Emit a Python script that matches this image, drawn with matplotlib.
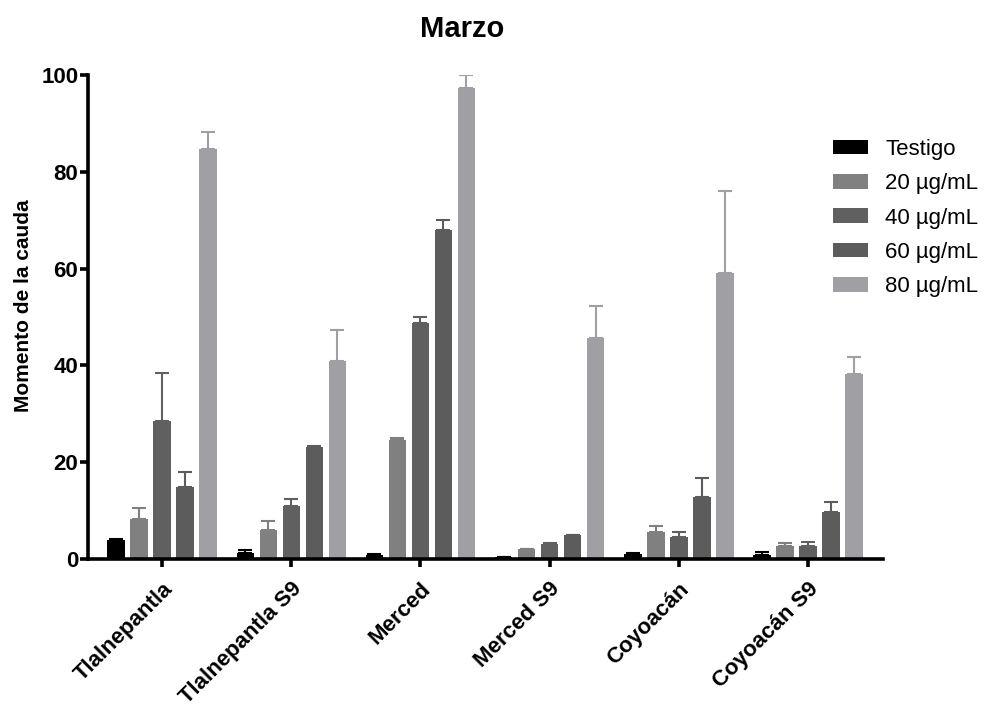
import numpy as np
import matplotlib.pyplot as plt

plt.rcParams['font.family'] = ['Liberation Sans', 'DejaVu Sans']

# Datos
sitios = ['Tlalnepantla', 'Tlalnepantla S9', 'Merced', 'Merced S9', 'Coyoacán', 'Coyoacán S9']
series = ['Testigo', '20 µg/mL', '40 µg/mL', '60 µg/mL', '80 µg/mL']

testigo = [4.0, 1.2, 0.9, 0.4, 1.0, 0.8]
c20 = [8.2, 5.9, 24.5, 2.0, 5.5, 2.6]
c40 = [28.5, 11.0, 48.7, 3.2, 4.6, 2.6]
c60 = [14.8, 23.2, 68.0, 4.9, 12.8, 9.7]
c80 = [84.8, 41.0, 97.2, 45.7, 59.0, 38.2]

err_testigo = [0.2, 0.7, 0.2, 0.1, 0.2, 0.6]
err_c20 = [2.3, 1.9, 0.5, 0.1, 1.4, 0.7]
err_c40 = [10.0, 1.3, 1.3, 0.1, 0.9, 0.9]
err_c60 = [3.2, 0.1, 2.0, 0.1, 3.9, 2.1]
err_c80 = [3.5, 6.4, 2.8, 6.5, 17.0, 3.5]

valores = [testigo, c20, c40, c60, c80]
errores = [err_testigo, err_c20, err_c40, err_c60, err_c80]
colores = ['#000000', '#808080', '#606060', '#5c5c5c', '#a0a0a4']

fig = plt.figure(figsize=(9.87, 7.07), dpi=100)
ax = fig.add_axes([0.0892, 0.2093, 0.8054, 0.6847])

x = np.arange(len(sitios))
paso = 0.178
ancho = 0.135
for i in range(len(series)):
    pos = x + (i - 2) * paso
    ax.bar(pos, valores[i], ancho, color=colores[i], label=series[i], zorder=2)
    ax.errorbar(pos, valores[i], yerr=[np.zeros(len(sitios)), errores[i]],
                fmt='none', ecolor=colores[i], elinewidth=1.5, capsize=5,
                capthick=1.5, zorder=1)

ax.set_xlim(-0.573, 5.58)
ax.set_ylim(0, 100)
ax.set_yticks([0, 20, 40, 60, 80, 100])
ax.set_xticks(x)
ax.set_xticklabels(sitios, rotation=45, ha='right', rotation_mode='anchor',
                   fontsize=16, fontweight='bold')
for lbl in ax.get_yticklabels():
    lbl.set_fontweight('bold')
    lbl.set_fontsize(16)

ax.spines['top'].set_visible(False)
ax.spines['right'].set_visible(False)
ax.spines['left'].set_linewidth(2.6)
ax.spines['bottom'].set_linewidth(2.6)
ax.tick_params(axis='y', width=2.6, length=6, pad=1)
ax.tick_params(axis='x', width=2.6, length=6, pad=8)

ax.set_ylabel('Momento de la cauda', fontsize=15, fontweight='bold')
ax.yaxis.set_label_coords(-0.069, 0.523)
ax.set_title('Marzo', fontsize=21, fontweight='bold', pad=27, x=0.47)

ax.legend(loc='upper left', bbox_to_anchor=(0.937, 0.868), frameon=False,
          fontsize=16, handlelength=1.6, handleheight=0.65, labelspacing=0.6,
          handletextpad=0.75, borderpad=0, borderaxespad=0)

fig.savefig('out.png', dpi=100)
